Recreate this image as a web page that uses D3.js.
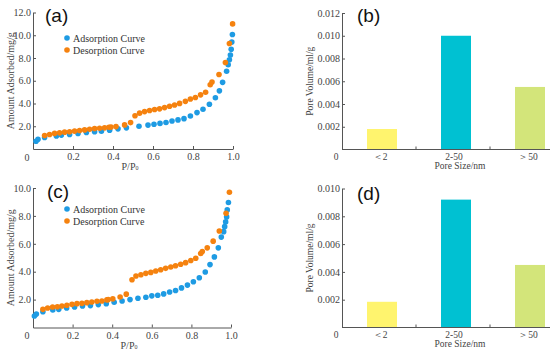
<!DOCTYPE html>
<html><head>
<meta charset="utf-8">
<script src="https://d3js.org/d3.v7.min.js"></script>
<style>
  body { margin: 0; background: #fff; }
</style>
</head>
<body>
<svg id="plot" width="550" height="352" style="font-family: 'Liberation Serif', 'Times New Roman', serif"></svg>
<script>
  // ---- data ----
  // panel (a) isotherm, [P/P0, amount mg/g]
  const adsorptionA = [[0.015,0.68],[0.025,0.85],[0.058,1.02],[0.117,1.14],[0.142,1.22],[0.183,1.28],
    [0.225,1.37],[0.267,1.45],[0.308,1.51],[0.342,1.57],[0.383,1.65],[0.425,1.77],[0.467,1.86],
    [0.53,2.0],[0.575,2.1],[0.605,2.17],[0.635,2.25],[0.665,2.33],[0.695,2.46],[0.725,2.56],
    [0.755,2.67],[0.787,2.9],[0.82,3.2],[0.85,3.5],[0.882,3.93],[0.912,4.5],[0.932,5.11],
    [0.948,5.86],[0.968,6.83],[0.976,7.41],[0.982,7.84],[0.987,8.27],[0.991,8.76],[0.994,9.4],[0.997,10.06]];
  const desorptionA = [[0.058,1.19],[0.083,1.28],[0.108,1.37],[0.133,1.42],[0.158,1.48],[0.183,1.51],
    [0.208,1.57],[0.233,1.63],[0.258,1.68],[0.283,1.74],[0.308,1.8],[0.333,1.83],[0.358,1.86],
    [0.38,1.91],[0.39,1.94],[0.415,1.97],[0.458,2.12],[0.488,2.32],[0.51,2.92],[0.533,3.15],
    [0.558,3.29],[0.583,3.38],[0.608,3.47],[0.633,3.53],[0.658,3.64],[0.683,3.76],[0.708,3.87],
    [0.733,4.01],[0.762,4.19],[0.787,4.39],[0.812,4.53],[0.838,4.76],[0.863,4.99],[0.886,5.65],
    [0.895,5.88],[0.93,6.55],[0.962,7.61],[0.982,9.28],[0.998,11.0]];

  // panel (c) isotherm
  const adsorptionC = [[0.007,0.82],[0.017,0.96],[0.05,1.13],[0.1,1.25],[0.13,1.3],[0.17,1.4],
    [0.21,1.47],[0.25,1.54],[0.29,1.57],[0.33,1.64],[0.37,1.71],[0.41,1.81],[0.45,1.9],[0.49,2.0],
    [0.53,2.1],[0.57,2.17],[0.6,2.27],[0.63,2.31],[0.66,2.41],[0.69,2.55],[0.72,2.65],[0.75,2.84],
    [0.78,3.04],[0.81,3.28],[0.84,3.57],[0.87,3.98],[0.894,4.51],[0.916,5.06],[0.936,5.71],
    [0.951,6.48],[0.963,6.87],[0.968,7.23],[0.973,7.57],[0.978,7.93],[0.981,8.43],[0.987,8.96]];
  const desorptionC = [[0.05,1.3],[0.074,1.4],[0.099,1.47],[0.123,1.49],[0.146,1.54],[0.171,1.59],
    [0.197,1.66],[0.222,1.71],[0.247,1.73],[0.272,1.78],[0.297,1.83],[0.323,1.88],[0.348,1.9],
    [0.373,1.98],[0.38,2.0],[0.403,2.05],[0.44,2.19],[0.471,2.39],[0.5,3.42],[0.52,3.69],
    [0.545,3.78],[0.57,3.88],[0.595,3.95],[0.62,4.05],[0.645,4.14],[0.67,4.24],[0.696,4.34],
    [0.72,4.43],[0.746,4.53],[0.771,4.65],[0.797,4.8],[0.822,4.96],[0.847,5.3],[0.855,5.45],
    [0.88,5.71],[0.91,6.19],[0.941,6.92],[0.975,8.19],[0.992,9.69]];

  // pore volume bars
  const poreSizes = ["\uFF1C2", "2-50", "\uFF1E50"];
  const poreVolB = [0.0018, 0.0100, 0.0055];
  const poreVolD = [0.00185, 0.0092, 0.0045];
  const barColors = ["#fff46e", "#00c1d2", "#d3e57a"];

  const xTicks = [0.2, 0.4, 0.6, 0.8, 1.0];
  const yTicksA = [2, 4, 6, 8, 10, 12];
  const yTicksC = [2, 4, 6, 8, 10];
  const yTicksB = [0.002, 0.004, 0.006, 0.008, 0.010, 0.012];
  const yTicksD = [0.002, 0.004, 0.006, 0.008, 0.010];

  const blue = "#1e9be3", orange = "#f5820f";
  const axisCol = "#555", labelCol = "#444";
  const serif = "'Liberation Serif', 'Times New Roman', serif";

  const svg = d3.select("svg#plot");

  function styleAxis(g) {
    g.attr("font-family", null);
    g.select(".domain").attr("stroke", axisCol).attr("stroke-width", 1);
    g.selectAll(".tick line").attr("stroke", axisCol);
    g.selectAll(".tick text").attr("fill", labelCol).style("font-size", "10px")
      .style("font-family", serif);
  }

  function panelLetter(x, y, s) {
    svg.append("text").attr("x", x).attr("y", y).attr("dominant-baseline", "central")
       .style("font-family", "'Liberation Sans', Arial, sans-serif").style("font-size", "19px")
       .attr("fill", "#111").text(s);
  }

  function isotherm(opt) {
    const x = d3.scaleLinear().domain([0, 1]).range(opt.xr);
    const y = d3.scaleLinear().domain([0, opt.ymax]).range(opt.yr);
    const g = svg.append("g");

    g.append("g").attr("transform", `translate(0,${opt.yr[0]})`)
      .call(d3.axisBottom(x).tickValues(xTicks).tickFormat(d3.format(".1f"))
            .tickSizeInner(-3).tickSizeOuter(0).tickPadding(4))
      .call(styleAxis);
    g.append("g").attr("transform", `translate(${opt.xr[0]},0)`)
      .call(d3.axisLeft(y).tickValues(opt.yTicks).tickFormat(d3.format(".1f"))
            .tickSizeInner(-3).tickSizeOuter(0).tickPadding(2))
      .call(styleAxis);

    // origin label
    g.append("text").attr("x", opt.xr[0] - 6).attr("y", opt.yr[0] + 8)
      .attr("text-anchor", "middle").attr("dominant-baseline", "central")
      .style("font-size", "10px").attr("fill", labelCol).text("0");

    const series = [[opt.ads, blue], [opt.des, orange]];
    series.forEach(([pts, col]) => {
      g.append("g").selectAll("circle").data(pts).join("circle")
        .attr("cx", d => x(d[0])).attr("cy", d => y(d[1])).attr("r", 2.8).attr("fill", col);
    });

    // legend
    const leg = [["Adsorption Curve", blue], ["Desorption Curve", orange]];
    leg.forEach(([name, col], i) => {
      const ly = opt.legY + i * 12;
      g.append("circle").attr("cx", 67).attr("cy", ly).attr("r", 2.8).attr("fill", col);
      g.append("text").attr("x", 73).attr("y", ly).attr("dominant-baseline", "central")
        .style("font-size", "10px").attr("fill", "#333").text(name);
    });

    // axis titles
    const xt = g.append("text").attr("x", (opt.xr[0] + opt.xr[1]) / 2 - 3).attr("y", opt.yr[0] + 17)
      .attr("text-anchor", "middle").attr("dominant-baseline", "central")
      .style("font-size", "10px").attr("fill", labelCol);
    xt.append("tspan").text("P/P");
    xt.append("tspan").style("font-size", "6px").attr("dy", 2).text("0");

    g.append("text")
      .attr("transform", `translate(10,${(opt.yr[0] + opt.yr[1]) / 2}) rotate(-90)`)
      .attr("text-anchor", "middle").attr("dominant-baseline", "central")
      .style("font-size", "10px").attr("fill", labelCol).text("Amount Adsorbed/mg/g");

    panelLetter(opt.letterX, opt.letterY, opt.letter);
  }

  function bars(opt) {
    const x = d3.scalePoint().domain(poreSizes).range([382, 530]);
    const y = d3.scaleLinear().domain([0, opt.ymax]).range(opt.yr);
    const g = svg.append("g");
    const x0 = 342;

    g.selectAll("rect").data(opt.vals).join("rect")
      .attr("x", (d, i) => x(poreSizes[i]) - 15).attr("width", 30)
      .attr("y", d => y(d)).attr("height", d => y(0) - y(d))
      .attr("fill", (d, i) => barColors[i]);

    g.append("g").attr("transform", `translate(${x0},0)`)
      .call(d3.axisLeft(y).tickValues(opt.yTicks).tickFormat(d3.format(".3f"))
            .tickSizeInner(-3).tickSizeOuter(0).tickPadding(2))
      .call(styleAxis);

    // x axis line with inward ticks between categories
    g.append("line").attr("x1", x0).attr("x2", 550).attr("y1", opt.yr[0]).attr("y2", opt.yr[0])
      .attr("stroke", axisCol);
    const step = x.step();
    g.selectAll("line.sep").data(poreSizes.slice(0, 2)).join("line").attr("class", "sep")
      .attr("x1", d => x(d) + step / 2 - 3).attr("x2", d => x(d) + step / 2 - 3)
      .attr("y1", opt.yr[0]).attr("y2", opt.yr[0] - 3).attr("stroke", axisCol);

    g.selectAll("text.cat").data(poreSizes).join("text").attr("class", "cat")
      .attr("x", d => x(d) - 2).attr("y", opt.yr[0] + 7)
      .attr("text-anchor", "middle").attr("dominant-baseline", "central")
      .style("font-size", "9.5px").attr("fill", labelCol).text(d => d);

    g.append("text").attr("x", x0 - 6).attr("y", opt.yr[0] + 7)
      .attr("text-anchor", "middle").attr("dominant-baseline", "central")
      .style("font-size", "9.5px").attr("fill", labelCol).text("0");

    g.append("text").attr("x", 460).attr("y", opt.yr[0] + 16.5)
      .attr("text-anchor", "middle").attr("dominant-baseline", "central")
      .style("font-size", "9.5px").attr("fill", labelCol).text("Pore Size/nm");

    g.append("text")
      .attr("transform", `translate(310,${(opt.yr[0] + opt.yr[1]) / 2}) rotate(-90)`)
      .attr("text-anchor", "middle").attr("dominant-baseline", "central")
      .style("font-size", "9.5px").attr("fill", labelCol).text("Pore Volume/ml/g");

    panelLetter(357, opt.letterY, opt.letter);
  }

  isotherm({xr: [33, 233], yr: [149, 12.5], ymax: 12, yTicks: yTicksA,
            ads: adsorptionA, des: desorptionA, legY: 38, letter: "(a)", letterX: 45, letterY: 15});
  isotherm({xr: [33, 231], yr: [327.5, 188], ymax: 10, yTicks: yTicksC,
            ads: adsorptionC, des: desorptionC, legY: 209, letter: "(c)", letterX: 47, letterY: 191});
  bars({yr: [149.5, 13], ymax: 0.012, yTicks: yTicksB, vals: poreVolB, letter: "(b)", letterY: 15});
  bars({yr: [327.5, 188.5], ymax: 0.010, yTicks: yTicksD, vals: poreVolD, letter: "(d)", letterY: 193});
</script>
</body>
</html>
